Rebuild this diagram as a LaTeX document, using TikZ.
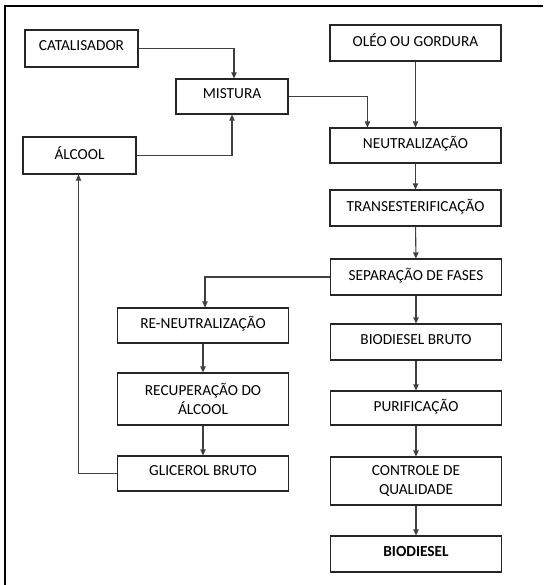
\documentclass[tikz,border=0pt]{standalone}
\usepackage{fontspec}
\setmainfont{Carlito}
\usetikzlibrary{arrows.meta,calc}
\begin{document}
\begin{tikzpicture}[x=0.75pt,y=-0.75pt,
  box/.style={draw=black!85,line width=0.8pt,fill=white,align=center,inner sep=1pt,
    font=\fontsize{11.5}{14}\selectfont},
  one/.style={text depth=4pt},
  wide/.style={box,minimum width=128.25pt},
  arr/.style={draw=black!75,line width=0.8pt,-{Triangle[length=4.5pt,width=4pt]}}]
\useasboundingbox (0,0) rectangle (543,585);
\draw[line width=1.6pt] (543,6) -- (5,6) -- (5,585);
% left column top
\node[box,one,minimum width=84.75pt,minimum height=27.75pt] (cat) at (81.5,48.5) {CATALISADOR};
\node[box,one,minimum width=84pt,minimum height=26.25pt] (mis) at (232,96.5) {MISTURA};
\node[box,one,minimum width=84.75pt,minimum height=27.75pt] (alc) at (79.5,155.5) {ÁLCOOL};
% right column
\node[wide,one,minimum height=27pt] (oleo) at (415.5,43) {OLÉO OU GORDURA};
\node[wide,one,minimum height=26.25pt] (neu) at (415.5,145.5) {NEUTRALIZAÇÃO};
\node[wide,one,minimum height=27pt] (trans) at (415.5,208) {TRANSESTERIFICAÇÃO};
\node[wide,one,minimum height=27pt] (sep) at (416,277) {SEPARAÇÃO DE FASES};
\node[wide,one,minimum height=27pt] (bb) at (416,342) {BIODIESEL BRUTO};
\node[wide,one,minimum height=25.5pt] (pur) at (416,408) {PURIFICAÇÃO};
\node[wide,minimum height=36pt] (ctrl) at (416,481) {CONTROLE DE\\QUALIDADE};
\node[wide,one,minimum height=27pt,font=\fontsize{11.5}{14}\selectfont\bfseries] (bio) at (416,554) {BIODIESEL};
% middle column
\node[wide,one,minimum height=26.25pt] (reneu) at (203,325.5) {RE-NEUTRALIZAÇÃO};
\node[wide,minimum height=39pt] (recup) at (203,399) {RECUPERAÇÃO DO\\ÁLCOOL};
\node[wide,one,minimum height=26.25pt] (glic) at (203,473.5) {GLICEROL BRUTO};
% connectors
\draw[arr] (cat.east) -| ($(mis.north)+(2,0)$);
\draw[arr] (alc.east) -| (mis.south);
\draw[arr] (mis.east) -| ($(neu.north west)+(38,0)$);
\draw[arr] (oleo) -- (neu);
\draw[arr] (neu) -- (trans);
\draw[arr] (trans) -- (sep);
\draw[arr] (sep) -- (bb);
\draw[arr] (bb) -- (pur);
\draw[arr] (pur) -- (ctrl);
\draw[arr] (ctrl) -- (bio);
\draw[arr] (sep.west) -| ($(reneu.north)+(2,0)$);
\draw[arr] (reneu) -- (recup);
\draw[arr] (recup) -- (glic);
\draw[arr] (glic.west) -| ($(alc.south)+(-1,0)$);
\end{tikzpicture}
\end{document}
